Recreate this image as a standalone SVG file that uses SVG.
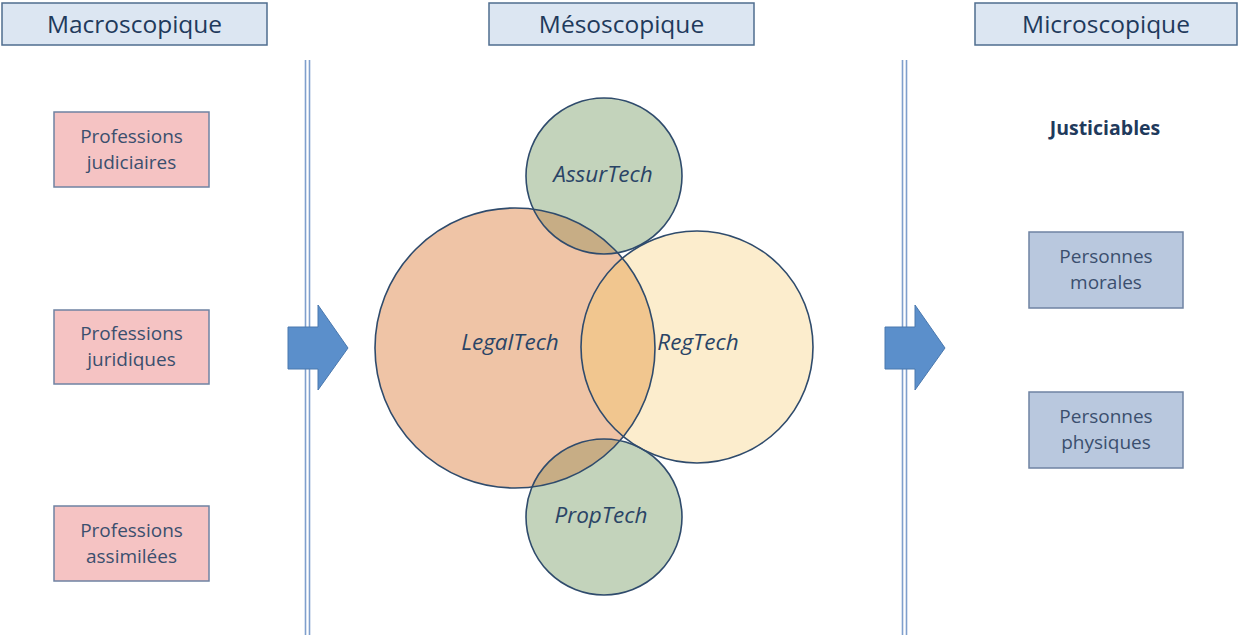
<svg xmlns="http://www.w3.org/2000/svg" width="1239" height="635" viewBox="0 0 1239 635">
<style>
.hdr{fill:#DCE6F2;stroke:#4F6D8F;stroke-width:1.5}
.hdrt{font-family:"Open Sans","Liberation Sans",sans-serif;font-size:24.5px;fill:#1F3A5C;text-anchor:middle}
.pink{fill:#F5C3C3;stroke:#6F83A3;stroke-width:1.5}
.blue{fill:#B9C8DE;stroke:#6F83A3;stroke-width:1.5}
.bt{font-family:"Open Sans","Liberation Sans",sans-serif;font-size:19px;fill:#3B4F6E;text-anchor:middle}
.ct{font-family:"Open Sans","Liberation Sans",sans-serif;font-size:22.5px;font-style:italic;fill:#2A4466;text-anchor:middle}
.ring{fill:none;stroke:#2F4B6C;stroke-width:1.6}
.vl{stroke:#7F9FCC;stroke-width:1.6}
.arr{fill:#5B8FCB;stroke:#4A78AE;stroke-width:1}
</style>
<defs>
<clipPath id="cLegal"><circle cx="515" cy="348" r="140"/></clipPath>
</defs>
<rect width="1239" height="635" fill="#FFFFFF"/>
<g id="connectors">
<line class="vl" x1="305.5" y1="60" x2="305.5" y2="635"/>
<line class="vl" x1="309.5" y1="60" x2="309.5" y2="635"/>
<line class="vl" x1="902.5" y1="60" x2="902.5" y2="635"/>
<line class="vl" x1="906.5" y1="60" x2="906.5" y2="635"/>
<polygon class="arr" points="288,327 318,327 318,305 348,348 318,390 318,369 288,369"/>
<polygon class="arr" points="885,327 915,327 915,305 945,348 915,390 915,369 885,369"/>
</g>
<g id="hdr-macro"><rect class="hdr" x="2" y="3" width="265" height="42"/><text class="hdrt" x="134.5" y="33">Macroscopique</text></g>
<g id="hdr-meso"><rect class="hdr" x="489" y="3" width="265" height="42"/><text class="hdrt" x="621.5" y="33">Mésoscopique</text></g>
<g id="hdr-micro"><rect class="hdr" x="975" y="3" width="262" height="42"/><text class="hdrt" x="1106" y="33">Microscopique</text></g>
<g id="prof-judiciaires"><rect class="pink" x="54" y="112" width="155" height="75"/><text class="bt" x="131.5" y="143">Professions</text><text class="bt" x="131.5" y="169">judiciaires</text></g>
<g id="prof-juridiques"><rect class="pink" x="54" y="310" width="155" height="74"/><text class="bt" x="131.5" y="340">Professions</text><text class="bt" x="131.5" y="366">juridiques</text></g>
<g id="prof-assimilees"><rect class="pink" x="54" y="506" width="155" height="75"/><text class="bt" x="131.5" y="537">Professions</text><text class="bt" x="131.5" y="563">assimilées</text></g>
<g id="venn">
<g id="legaltech"><circle cx="515" cy="348" r="140" fill="#EFC4A6"/></g>
<g id="regtech"><circle cx="697" cy="347" r="116" fill="#FCEDCD"/>
<circle cx="697" cy="347" r="116" fill="#F1C68F" clip-path="url(#cLegal)"/></g>
<g id="assurtech"><circle cx="604" cy="176" r="78" fill="#C3D3BB"/>
<circle cx="604" cy="176" r="78" fill="#C7AD85" clip-path="url(#cLegal)"/></g>
<g id="proptech"><circle cx="604" cy="517" r="78" fill="#C3D3BB"/>
<circle cx="604" cy="517" r="78" fill="#C7AD85" clip-path="url(#cLegal)"/></g>
<circle class="ring" cx="515" cy="348" r="140"/>
<circle class="ring" cx="697" cy="347" r="116"/>
<circle class="ring" cx="604" cy="176" r="78"/>
<circle class="ring" cx="604" cy="517" r="78"/>
<text class="ct" x="603" y="182">AssurTech</text>
<text class="ct" x="510" y="350">LegalTech</text>
<text class="ct" x="698" y="350">RegTech</text>
<text class="ct" x="601" y="523">PropTech</text>
</g>
<g id="justiciables"><text x="1105" y="135" font-family="'Open Sans','Liberation Sans',sans-serif" font-size="19.5" font-weight="bold" fill="#1F3A5C" text-anchor="middle">Justiciables</text></g>
<g id="pers-morales"><rect class="blue" x="1029" y="232" width="154" height="76"/><text class="bt" x="1106" y="263">Personnes</text><text class="bt" x="1106" y="289">morales</text></g>
<g id="pers-physiques"><rect class="blue" x="1029" y="392" width="154" height="76"/><text class="bt" x="1106" y="423">Personnes</text><text class="bt" x="1106" y="449">physiques</text></g>
</svg>
